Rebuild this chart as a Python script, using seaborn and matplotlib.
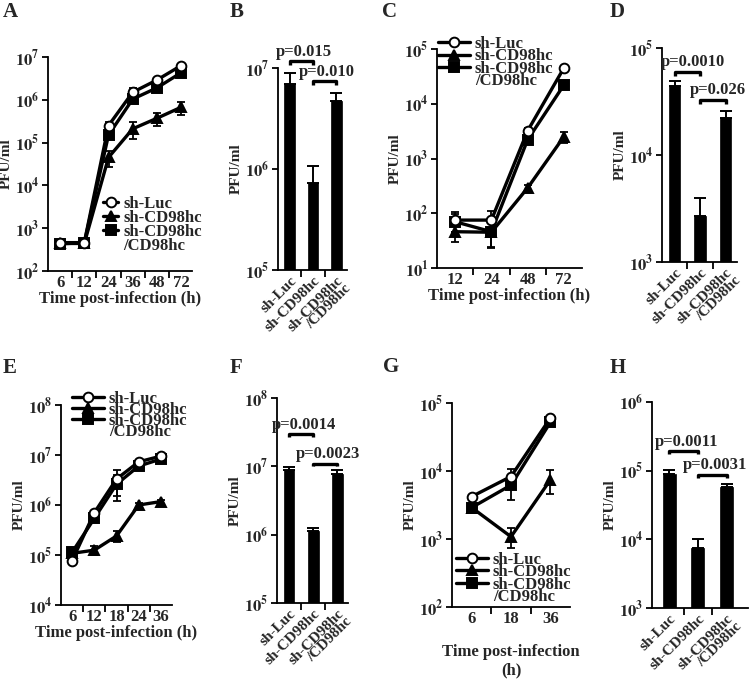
import numpy as np
import pandas as pd
import seaborn as sns
import matplotlib.pyplot as plt
from matplotlib.lines import Line2D
from matplotlib.ticker import NullLocator, FixedLocator

# groups
groups = ['sh-Luc', 'sh-CD98hc', 'sh-CD98hc/CD98hc']
bar_labels = ['sh-Luc', 'sh-CD98hc', 'sh-CD98hc\n/CD98hc']

# panel A
a_time = ['6', '12', '24', '36', '48', '72']
a_luc = [460, 460, 2.5e5, 1.5e6, 2.9e6, 6.3e6]
a_luc_sd = [60, 60, 6e4, 4e5, 4e5, 6e5]
a_kd = [440, 440, 4.5e4, 2.1e5, 3.7e5, 6.7e5]
a_kd_sd = [50, 50, 1.8e4, 9e4, 1.2e5, 2.3e5]
a_res = [430, 460, 1.5e5, 1.04e6, 1.9e6, 4.3e6]
a_res_sd = [60, 60, 3e4, 2e5, 2.5e5, 5e5]

# panel B
b_vals = [7.0e6, 7.2e5, 4.7e6]
b_sd = [2.0e6, 3.5e5, 9e5]
b_p = ['p=0.015', 'p=0.010']

# panel C
c_time = ['12', '24', '48', '72']
c_luc = [75, 75, 3200, 45000]
c_luc_sd = [30, 35, 400, 4000]
c_kd = [46, 45, 290, 2500]
c_kd_sd = [16, 22, 40, 600]
c_res = [70, 46, 2200, 22000]
c_res_sd = [25, 22, 300, 2000]

# panel D
d_vals = [4.4e4, 2.7e3, 2.2e4]
d_sd = [5e3, 1.3e3, 4e3]
d_p = ['p=0.0010', 'p=0.026']

# panel E
e_time = ['6', '12', '18', '24', '36']
e_luc = [7.7e4, 7e5, 3.3e6, 7.3e6, 9.5e6]
e_luc_sd = [8e3, 6e4, 1.8e6, 6e5, 8e5]
e_kd = [1.08e5, 1.25e5, 2.4e5, 1.0e6, 1.17e6]
e_kd_sd = [1e4, 2.5e4, 6e4, 8e4, 1e5]
e_res = [1.13e5, 5.4e5, 2.6e6, 6e6, 8.3e6]
e_res_sd = [1e4, 5e4, 1.4e6, 5e5, 6e5]

# panel F
f_vals = [8.8e6, 1.15e6, 7.8e6]
f_sd = [1e6, 1e5, 1e6]
f_p = ['p=0.0014', 'p=0.0023']

# panel G
g_time = ['6', '18', '36']
g_luc = [4200, 8300, 60000]
g_luc_sd = [300, 2500, 5000]
g_kd = [2900, 1080, 7400]
g_kd_sd = [250, 350, 2800]
g_res = [2900, 6200, 52000]
g_res_sd = [250, 2500, 4000]

# panel H
h_vals = [9.0e4, 7.5e3, 5.8e4]
h_sd = [1.2e4, 2.5e3, 6e3]
h_p = ['p=0.0011', 'p=0.0031']

sns.set_style('ticks')
plt.rcParams['font.family'] = ['Liberation Serif', 'DejaVu Serif']
plt.rcParams['font.weight'] = 'bold'
plt.rcParams['axes.labelweight'] = 'bold'
plt.rcParams['mathtext.fontset'] = 'stix'

W, H = 750, 686
fig = plt.figure(figsize=(7.5, 6.86), dpi=100)


def box(l, t, r, b):
    return fig.add_axes([l / W, 1 - b / H, (r - l) / W, (b - t) / H])


def style_axes(ax, ylo, yhi, xlim):
    ax.set_yscale('log')
    ax.set_ylim(10.0 ** ylo, 10.0 ** yhi)
    ax.set_xlim(*xlim)
    ks = list(range(ylo, yhi + 1))
    ax.yaxis.set_major_locator(FixedLocator([10.0 ** k for k in ks]))
    ax.yaxis.set_minor_locator(NullLocator())
    ax.set_yticklabels([rf'$\mathbf{{10^{{{k}}}}}$' for k in ks], fontsize=12)
    sns.despine(ax=ax)
    for s in ('left', 'bottom'):
        ax.spines[s].set_linewidth(1.3)
        ax.spines[s].set_color('black')
    ax.tick_params(axis='y', length=4, width=1.3, pad=2, color='black')
    ax.tick_params(axis='x', which='major', length=0, pad=3)
    ax.tick_params(axis='x', which='minor', length=5, width=1.3, color='black')
    ax.set_ylabel('PFU/ml', fontsize=11, labelpad=2)


def line_panel(ax, times, luc, luc_sd, kd, kd_sd, res, res_sd, ylo, yhi, xlim,
               leg_xy, handlelen, spacing, xlabel='Time post-infection (h)'):
    pos = np.arange(len(times))
    df = pd.DataFrame({
        'pos': np.tile(pos, 3),
        'pfu': np.concatenate([luc, kd, res]),
        'group': np.repeat(groups, len(times)),
    })
    ax.set_yscale('log')
    sns.lineplot(data=df, x='pos', y='pfu', hue='group', style='group',
                 hue_order=groups, style_order=groups,
                 markers=['o', '^', 's'], dashes=False,
                 palette=['black'] * 3, markersize=7, linewidth=2.4,
                 markeredgecolor='black', markeredgewidth=1.4,
                 errorbar=None, legend=False, ax=ax)
    lines = ax.lines[:3]
    lines[0].set_markerfacecolor('white')
    lines[0].set_zorder(5)
    lines[2].set_zorder(4)
    lines[1].set_zorder(3)
    for vals, sd in ((luc, luc_sd), (kd, kd_sd), (res, res_sd)):
        ax.errorbar(pos, vals, yerr=sd, fmt='none', ecolor='black',
                    elinewidth=1.3, capsize=3, capthick=1.3, zorder=2)
    style_axes(ax, ylo, yhi, xlim)
    ax.set_xticks(pos)
    ax.set_xticklabels(times, fontsize=12)
    ax.xaxis.set_minor_locator(FixedLocator(pos[:-1] + 0.5))
    ax.set_xlabel(xlabel, fontsize=12, labelpad=0)
    dummy = Line2D([], [], linestyle='none')
    leg = ax.legend(lines + [dummy],
                    ['sh-Luc', 'sh-CD98hc', 'sh-CD98hc', '/CD98hc'],
                    loc='upper left', bbox_to_anchor=(leg_xy[0] / W, 1 - leg_xy[1] / H),
                    bbox_transform=fig.transFigure, frameon=False,
                    fontsize=12, handlelength=handlelen, handletextpad=0.3,
                    labelspacing=spacing, borderpad=0, borderaxespad=0)
    leg.set_zorder(10)
    return ax


def bar_panel(ax, vals, sd, pvals, ylo, yhi, xlim, factors, shift=0.1):
    ax.set_yscale('log')
    sns.barplot(x=bar_labels, y=vals, color='black', saturation=1, width=0.45,
                edgecolor='black', linewidth=0.5, errorbar=None, ax=ax)
    pos = np.arange(len(vals))
    ax.errorbar(pos, vals, yerr=[np.zeros(len(vals)), sd], fmt='none',
                ecolor='black', elinewidth=1.4, capsize=4, capthick=1.4)
    style_axes(ax, ylo, yhi, xlim)
    ax.set_xticks(pos)
    ax.set_xticklabels(bar_labels, rotation=45, ha='right', va='top',
                       rotation_mode='anchor', multialignment='right',
                       fontsize=11, linespacing=0.85)
    ax.xaxis.set_minor_locator(FixedLocator(pos[:-1] + 0.5))
    tops = np.array(vals) + np.array(sd)
    for k, (i, j) in enumerate(((0, 1), (1, 2))):
        y = max(tops[i], tops[j]) * factors[k]
        ax.plot([i, i, j, j], [y / 1.1, y, y, y / 1.1], color='black', lw=2.4,
                clip_on=False, solid_capstyle='butt')
        ax.annotate(pvals[k], xy=((i + j) / 2 + shift, y), xytext=(0, 1),
                    textcoords='offset points', ha='center', va='bottom',
                    fontsize=12, annotation_clip=False)


axA = box(48, 57, 192, 271)
line_panel(axA, a_time, a_luc, a_luc_sd, a_kd, a_kd_sd, a_res, a_res_sd,
           2, 7, (-0.5, 5.45), (103, 196), 0.9, -0.12)

axB = box(278, 68, 347, 270)
bar_panel(axB, b_vals, b_sd, b_p, 5, 7, (-0.5, 2.45), (1.3, 1.32))

axC = box(437, 49, 582, 268)
line_panel(axC, c_time, c_luc, c_luc_sd, c_kd, c_kd_sd, c_res, c_res_sd,
           1, 5, (-0.5, 3.5), (438, 36), 1.9, -0.22)

axD = box(662, 48, 737, 262)
bar_panel(axD, d_vals, d_sd, d_p, 3, 5, (-0.5, 2.45), (1.23, 1.26), shift=0.2)

axE = box(61, 405, 172, 605)
line_panel(axE, e_time, e_luc, e_luc_sd, e_kd, e_kd_sd, e_res, e_res_sd,
           4, 8, (-0.5, 4.5), (72, 391), 1.9, -0.3)

axF = box(277, 398, 348, 603)
bar_panel(axF, f_vals, f_sd, f_p, 5, 8, (-0.5, 2.45), (3.0, 1.25))

axG = box(452, 403, 570, 607)
line_panel(axG, g_time, g_luc, g_luc_sd, g_kd, g_kd_sd, g_res, g_res_sd,
           2, 5, (-0.5, 2.5), (456, 552), 1.9, -0.22,
           xlabel='Time post-infection\n(h)')
axG.xaxis.labelpad = 12

axH = box(652, 402, 748, 608)
bar_panel(axH, h_vals, h_sd, h_p, 3, 6, (-0.6, 2.75), (1.9, 1.36))

for letter, x, y in (('A', 3, 12), ('B', 230, 12), ('C', 382, 12), ('D', 610, 12),
                     ('E', 3, 368), ('F', 230, 368), ('G', 383, 367), ('H', 610, 368)):
    fig.text(x / W, 1 - y / H, letter, fontsize=15, fontweight='bold',
             ha='left', va='center')

fig.savefig('out.png', dpi=100)
